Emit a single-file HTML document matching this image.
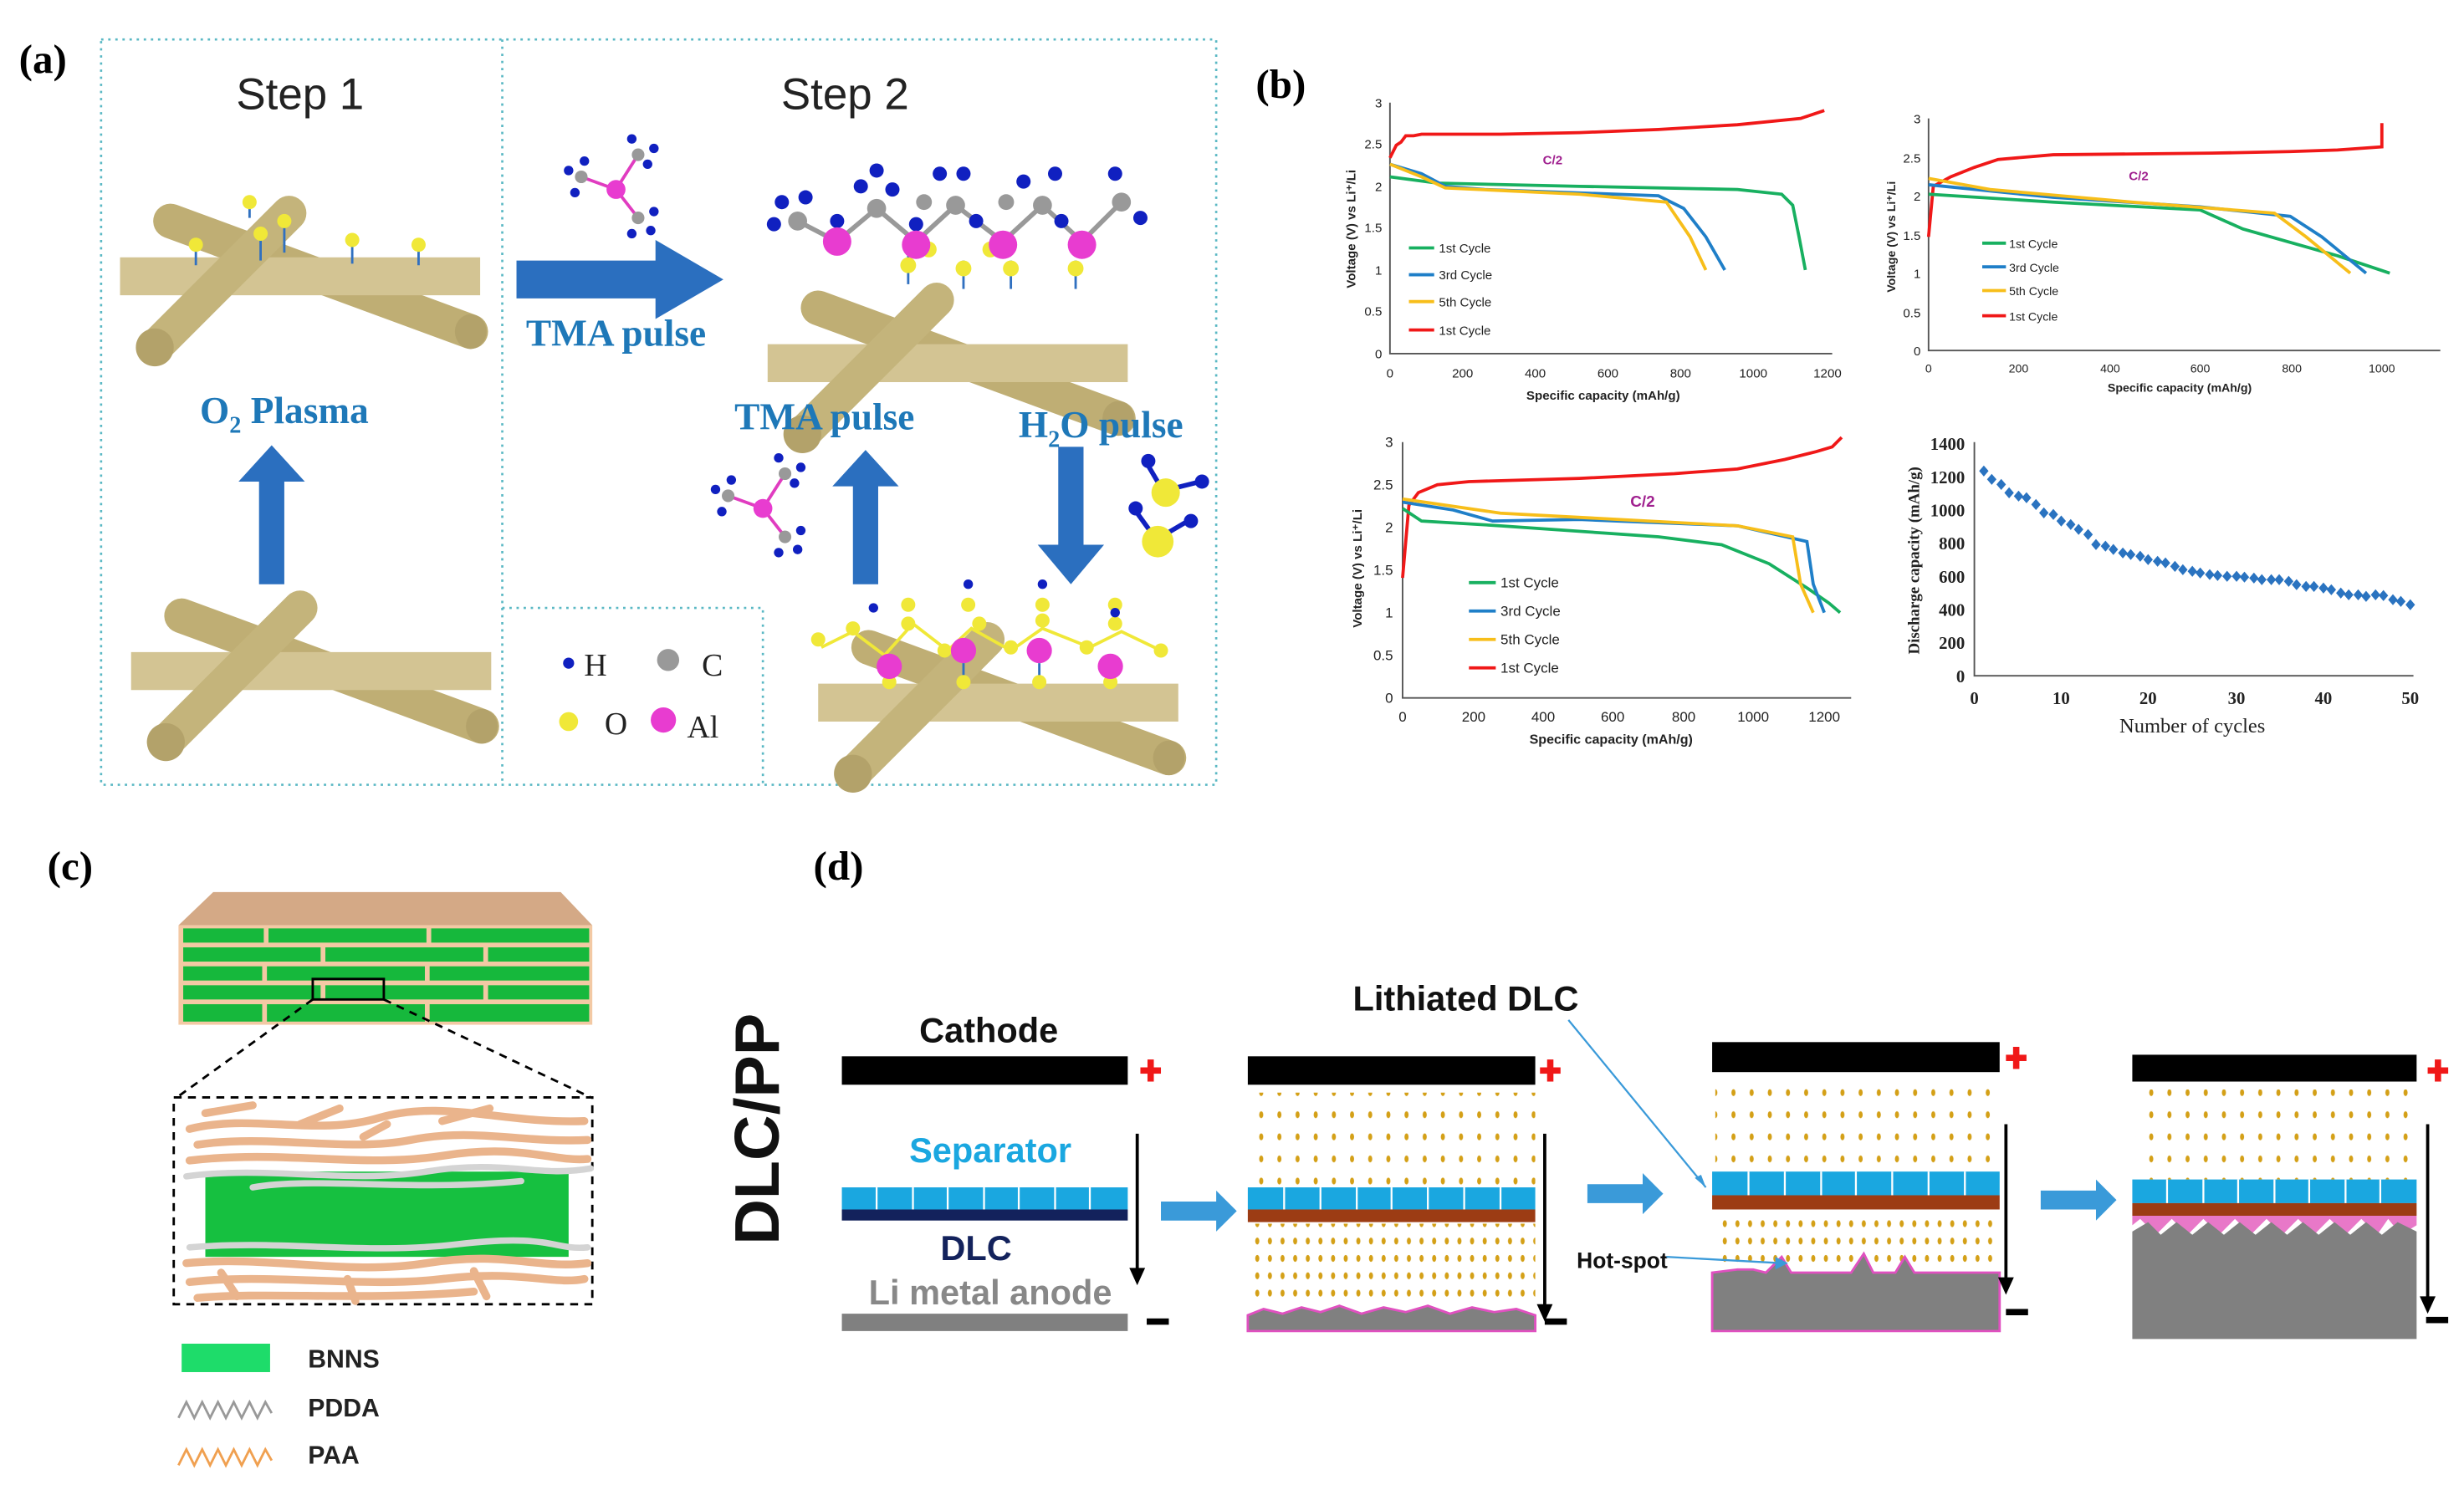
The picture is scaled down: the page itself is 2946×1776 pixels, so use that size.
<!DOCTYPE html>
<html><head><meta charset="utf-8"><style>
html,body{margin:0;padding:0;background:#fff;}
svg{display:block;}
text{font-family:"Liberation Sans",sans-serif;}
.ser{font-family:"Liberation Serif",serif;}
</style></head><body>
<svg width="2946" height="1776" viewBox="0 0 1560 940.5" preserveAspectRatio="none" xmlns="http://www.w3.org/2000/svg">
<defs>
<pattern id="dots" x="0" y="0" width="11.5" height="14" patternUnits="userSpaceOnUse">
<ellipse cx="5" cy="6" rx="1.3" ry="2.2" fill="#d4a017"/>
</pattern>
<pattern id="dots2" x="0" y="0" width="8" height="11" patternUnits="userSpaceOnUse">
<ellipse cx="4" cy="5" rx="1.3" ry="2.2" fill="#d4a017"/>
</pattern>
<g id="rods">
<line x1="40" y1="5" x2="230" y2="75" stroke="#bfae74" stroke-width="22" stroke-linecap="round"/>
<line x1="8" y1="40" x2="236" y2="40" stroke="#d3c493" stroke-width="24"/>
<line x1="30" y1="85" x2="115" y2="0" stroke="#c4b47b" stroke-width="22" stroke-linecap="round"/>
<ellipse cx="30" cy="85" rx="12" ry="12" fill="#b3a26a"/>
<ellipse cx="230" cy="75" rx="10" ry="11" fill="#b3a26a"/>
</g>
<g id="tma">
<line x1="0" y1="0" x2="-22" y2="-8" stroke="#e03cc0" stroke-width="2"/>
<line x1="0" y1="0" x2="14" y2="-22" stroke="#e03cc0" stroke-width="2"/>
<line x1="0" y1="0" x2="14" y2="18" stroke="#e03cc0" stroke-width="2"/>
<circle cx="-22" cy="-8" r="4" fill="#999"/><circle cx="14" cy="-22" r="4" fill="#999"/><circle cx="14" cy="18" r="4" fill="#999"/>
<circle cx="-30" cy="-12" r="3" fill="#1020c0"/><circle cx="-26" cy="2" r="3" fill="#1020c0"/><circle cx="-20" cy="-18" r="3" fill="#1020c0"/>
<circle cx="10" cy="-32" r="3" fill="#1020c0"/><circle cx="24" cy="-26" r="3" fill="#1020c0"/><circle cx="20" cy="-16" r="3" fill="#1020c0"/>
<circle cx="24" cy="14" r="3" fill="#1020c0"/><circle cx="10" cy="28" r="3" fill="#1020c0"/><circle cx="22" cy="26" r="3" fill="#1020c0"/>
<circle cx="0" cy="0" r="6" fill="#e83cd0"/>
</g>
</defs>

<!-- (a) -->
<text x="12" y="46" class="ser" font-size="26" font-weight="bold">(a)</text>
<g stroke="#5ab8c4" stroke-width="1.4" stroke-dasharray="1.5,3" fill="none">
<rect x="64" y="25" width="706" height="472"/>
<line x1="318" y1="25" x2="318" y2="497"/>
<polyline points="318,385 483,385 483,497"/>
</g>
<text x="190" y="69" font-size="28" text-anchor="middle" fill="#222">Step 1</text>
<text x="535" y="69" font-size="28" text-anchor="middle" fill="#222">Step 2</text>
<use href="#rods" x="68" y="135"/>
<g stroke="#3070c0" stroke-width="1.5"><line x1="124" y1="168" x2="124" y2="158"/><line x1="158" y1="138" x2="158" y2="130"/><line x1="165" y1="165" x2="165" y2="150"/><line x1="180" y1="160" x2="180" y2="143"/><line x1="223" y1="167" x2="223" y2="155"/><line x1="265" y1="168" x2="265" y2="157"/></g>
<g fill="#f0e838"><circle cx="124" cy="155" r="4.5"/><circle cx="158" cy="128" r="4.5"/><circle cx="165" cy="148" r="4.5"/><circle cx="180" cy="140" r="4.5"/><circle cx="223" cy="152" r="4.5"/><circle cx="265" cy="155" r="4.5"/></g>
<use href="#rods" x="75" y="385"/>
<use href="#rods" x="478" y="190"/>
<use href="#rods" x="510" y="405"/>
<!-- arrows -->
<polygon points="327,165 415,165 415,152 458,177 415,202 415,189 327,189" fill="#2b6fbf"/>
<polygon points="164,370 180,370 180,305 193,305 172,282 151,305 164,305" fill="#2b6fbf"/>
<polygon points="540,370 556,370 556,308 569,308 548,285 527,308 540,308" fill="#2b6fbf"/>
<polygon points="670,283 686,283 686,345 699,345 678,370 657,345 670,345" fill="#2b6fbf"/>
<g class="ser" font-weight="bold" fill="#1e78b8" font-size="24">
<text x="390" y="219" text-anchor="middle" class="ser">TMA pulse</text>
<text x="180" y="268" text-anchor="middle" class="ser">O<tspan font-size="15" dy="6">2</tspan><tspan dy="-6"> Plasma</tspan></text>
<text x="522" y="272" text-anchor="middle" class="ser">TMA pulse</text>
<text x="697" y="277" text-anchor="middle" class="ser">H<tspan font-size="15" dy="6">2</tspan><tspan dy="-6">O pulse</tspan></text>
</g>
<use href="#tma" x="390" y="120"/>
<use href="#tma" x="483" y="322"/>
<!-- step2 top molecules -->
<g>
<g stroke="#3070c0" stroke-width="1.5"><line x1="575" y1="180" x2="575" y2="160"/><line x1="610" y1="183" x2="610" y2="165"/><line x1="640" y1="183" x2="640" y2="165"/><line x1="681" y1="183" x2="681" y2="165"/></g>
<g fill="#f0e838"><circle cx="575" cy="168" r="5"/><circle cx="610" cy="170" r="5"/><circle cx="640" cy="170" r="5"/><circle cx="681" cy="170" r="5"/><circle cx="588" cy="158" r="5"/><circle cx="627" cy="158" r="5"/></g>
<g stroke="#999" stroke-width="3" fill="none"><polyline points="505,140 530,153 555,132 580,153 605,130 635,153 660,130 685,153 710,128"/></g>
<g fill="#999"><circle cx="505" cy="140" r="6"/><circle cx="555" cy="132" r="6"/><circle cx="605" cy="130" r="6"/><circle cx="660" cy="130" r="6"/><circle cx="710" cy="128" r="6"/><circle cx="585" cy="128" r="5"/><circle cx="637" cy="128" r="5"/></g>
<g fill="#1020c0"><circle cx="490" cy="142" r="4.5"/><circle cx="495" cy="128" r="4.5"/><circle cx="510" cy="125" r="4.5"/><circle cx="545" cy="118" r="4.5"/><circle cx="565" cy="120" r="4.5"/><circle cx="555" cy="108" r="4.5"/><circle cx="595" cy="110" r="4.5"/><circle cx="610" cy="110" r="4.5"/><circle cx="618" cy="140" r="4.5"/><circle cx="648" cy="115" r="4.5"/><circle cx="668" cy="110" r="4.5"/><circle cx="672" cy="140" r="4.5"/><circle cx="706" cy="110" r="4.5"/><circle cx="722" cy="138" r="4.5"/><circle cx="580" cy="142" r="4.5"/><circle cx="530" cy="140" r="4.5"/></g>
<g fill="#e83cd0"><circle cx="530" cy="153" r="9"/><circle cx="580" cy="155" r="9"/><circle cx="635" cy="155" r="9"/><circle cx="685" cy="155" r="9"/></g>
</g>
<!-- H2O molecules -->
<g><line x1="737" y1="312" x2="727" y2="295" stroke="#1020c0" stroke-width="3"/><line x1="740" y1="310" x2="760" y2="305" stroke="#1020c0" stroke-width="3"/><circle cx="738" cy="312" r="9" fill="#f0e838"/><circle cx="727" cy="292" r="4.5" fill="#1020c0"/><circle cx="761" cy="305" r="4.5" fill="#1020c0"/>
<line x1="733" y1="343" x2="720" y2="325" stroke="#1020c0" stroke-width="3"/><line x1="735" y1="340" x2="752" y2="330" stroke="#1020c0" stroke-width="3"/><circle cx="733" cy="343" r="10" fill="#f0e838"/><circle cx="719" cy="322" r="4.5" fill="#1020c0"/><circle cx="754" cy="330" r="4.5" fill="#1020c0"/></g>
<!-- step2 bottom -->
<g>
<polyline points="520,410 540,400 560,415 578,395 600,412 615,398 640,412 660,398 690,410 710,400 735,412" stroke="#f0e838" stroke-width="2" fill="none"/>
<g stroke="#3070c0" stroke-width="1.5"><line x1="563" y1="435" x2="563" y2="420"/><line x1="610" y1="435" x2="610" y2="420"/><line x1="658" y1="435" x2="658" y2="420"/><line x1="703" y1="435" x2="703" y2="420"/></g>
<g fill="#f0e838"><circle cx="518" cy="405" r="4.5"/><circle cx="540" cy="398" r="4.5"/><circle cx="575" cy="395" r="4.5"/><circle cx="598" cy="412" r="4.5"/><circle cx="620" cy="395" r="4.5"/><circle cx="640" cy="410" r="4.5"/><circle cx="660" cy="393" r="4.5"/><circle cx="688" cy="410" r="4.5"/><circle cx="706" cy="395" r="4.5"/><circle cx="735" cy="412" r="4.5"/><circle cx="563" cy="432" r="4.5"/><circle cx="610" cy="432" r="4.5"/><circle cx="658" cy="432" r="4.5"/><circle cx="703" cy="432" r="4.5"/><circle cx="575" cy="383" r="4.5"/><circle cx="613" cy="383" r="4.5"/><circle cx="660" cy="383" r="4.5"/><circle cx="706" cy="383" r="4.5"/></g>
<g fill="#1020c0"><circle cx="553" cy="385" r="3"/><circle cx="613" cy="370" r="3"/><circle cx="660" cy="370" r="3"/><circle cx="706" cy="388" r="3"/></g>
<g fill="#e83cd0"><circle cx="563" cy="422" r="8"/><circle cx="610" cy="412" r="8"/><circle cx="658" cy="412" r="8"/><circle cx="703" cy="422" r="8"/></g>
</g>
<!-- legend -->
<circle cx="360" cy="420" r="3.5" fill="#1020c0"/><text x="377" y="428" class="ser" font-size="20" fill="#222" text-anchor="middle">H</text>
<circle cx="423" cy="418" r="7" fill="#999"/><text x="451" y="428" class="ser" font-size="20" fill="#222" text-anchor="middle">C</text>
<circle cx="360" cy="457" r="6" fill="#f0e838"/><text x="390" y="465" class="ser" font-size="20" fill="#222" text-anchor="middle">O</text>
<circle cx="420" cy="456" r="8" fill="#e83cd0"/><text x="445" y="467" class="ser" font-size="20" fill="#222" text-anchor="middle">Al</text>

<!-- (b) -->
<text x="795" y="62" class="ser" font-size="26" font-weight="bold">(b)</text>
<g font-size="8" fill="#222">
<g stroke="#555" stroke-width="1" fill="none"><polyline points="880,65 880,224 1160,224"/></g>
<g text-anchor="end"><text x="875" y="227">0</text><text x="875" y="200">0.5</text><text x="875" y="174">1</text><text x="875" y="147">1.5</text><text x="875" y="121">2</text><text x="875" y="94">2.5</text><text x="875" y="68">3</text></g>
<g text-anchor="middle"><text x="880" y="239">0</text><text x="926" y="239">200</text><text x="972" y="239">400</text><text x="1018" y="239">600</text><text x="1064" y="239">800</text><text x="1110" y="239">1000</text><text x="1157" y="239">1200</text>
<text x="1015" y="253" font-weight="bold">Specific capacity (mAh/g)</text></g>
<text transform="translate(858,145) rotate(-90)" text-anchor="middle" font-weight="bold">Voltage (V) vs Li⁺/Li</text>
<g fill="none" stroke-width="2">
<polyline stroke="#f01818" points="880,100 884,92 887,90 890,86 895,86 900,85 950,85 1000,84 1050,82 1100,79 1140,75 1155,70"/>
<polyline stroke="#18b060" points="880,112 910,116 1000,118 1100,120 1128,123 1135,130 1139,150 1143,171"/>
<polyline stroke="#1f7fc8" points="880,104 900,110 915,118 940,120 1050,124 1066,132 1080,150 1092,171"/>
<polyline stroke="#f7be1a" points="880,104 900,112 915,119 1000,123 1055,128 1070,150 1080,171"/>
<line x1="892" y1="157" x2="908" y2="157" stroke="#18b060"/><line x1="892" y1="174" x2="908" y2="174" stroke="#1f7fc8"/><line x1="892" y1="191" x2="908" y2="191" stroke="#f7be1a"/><line x1="892" y1="209" x2="908" y2="209" stroke="#f01818"/>
</g>
<text x="911" y="160">1st Cycle</text><text x="911" y="177">3rd Cycle</text><text x="911" y="194">5th Cycle</text><text x="911" y="212">1st Cycle</text>
<text x="983" y="104" fill="#a0208f" font-weight="bold" text-anchor="middle">C/2</text>
<g stroke="#555" stroke-width="1" fill="none"><polyline points="1221,75 1221,222 1545,222"/></g>
<g text-anchor="end"><text x="1216" y="225">0</text><text x="1216" y="201">0.5</text><text x="1216" y="176">1</text><text x="1216" y="152">1.5</text><text x="1216" y="127">2</text><text x="1216" y="103">2.5</text><text x="1216" y="78">3</text></g>
<g text-anchor="middle" font-size="7.5"><text x="1221" y="236">0</text><text x="1278" y="236">200</text><text x="1336" y="236">400</text><text x="1393" y="236">600</text><text x="1451" y="236">800</text><text x="1508" y="236">1000</text>
<text x="1380" y="248" font-weight="bold">Specific capacity (mAh/g)</text></g>
<text transform="translate(1200,150) rotate(-90)" text-anchor="middle" font-weight="bold" font-size="7.5">Voltage (V) vs Li⁺/Li</text>
<g fill="none" stroke-width="2">
<polyline stroke="#f01818" points="1221,150 1224,118 1235,112 1250,106 1265,101 1300,98 1400,97 1450,96 1480,95 1508,93 1508,78"/>
<polyline stroke="#18b060" points="1221,123 1300,128 1393,133 1420,145 1480,162 1513,173"/>
<polyline stroke="#1f7fc8" points="1221,117 1300,125 1393,131 1450,137 1470,150 1498,173"/>
<polyline stroke="#f7be1a" points="1221,113 1260,120 1350,128 1440,135 1460,150 1488,173"/>
<line x1="1255" y1="154" x2="1270" y2="154" stroke="#18b060"/><line x1="1255" y1="169" x2="1270" y2="169" stroke="#1f7fc8"/><line x1="1255" y1="184" x2="1270" y2="184" stroke="#f7be1a"/><line x1="1255" y1="200" x2="1270" y2="200" stroke="#f01818"/>
</g>
<g font-size="7.5"><text x="1272" y="157">1st Cycle</text><text x="1272" y="172">3rd Cycle</text><text x="1272" y="187">5th Cycle</text><text x="1272" y="203">1st Cycle</text></g>
<text x="1354" y="114" fill="#a0208f" font-weight="bold" text-anchor="middle">C/2</text>
<g stroke="#555" stroke-width="1" fill="none"><polyline points="888,280 888,442 1172,442"/></g>
<g text-anchor="end" font-size="9"><text x="882" y="445">0</text><text x="882" y="418">0.5</text><text x="882" y="391">1</text><text x="882" y="364">1.5</text><text x="882" y="337">2</text><text x="882" y="310">2.5</text><text x="882" y="283">3</text></g>
<g text-anchor="middle" font-size="9"><text x="888" y="457">0</text><text x="933" y="457">200</text><text x="977" y="457">400</text><text x="1021" y="457">600</text><text x="1066" y="457">800</text><text x="1110" y="457">1000</text><text x="1155" y="457">1200</text>
<text x="1020" y="471" font-weight="bold" font-size="8.5">Specific capacity (mAh/g)</text></g>
<text transform="translate(862,360) rotate(-90)" text-anchor="middle" font-weight="bold">Voltage (V) vs Li⁺/Li</text>
<g fill="none" stroke-width="2">
<polyline stroke="#f01818" points="888,366 892,320 898,312 910,307 930,305 1000,303 1060,300 1100,297 1130,291 1150,286 1160,283 1166,277"/>
<polyline stroke="#18b060" points="888,322 900,330 950,333 1050,340 1090,345 1120,357 1145,373 1158,382 1165,388"/>
<polyline stroke="#1f7fc8" points="888,318 920,323 945,330 1000,329 1100,333 1144,343 1148,370 1155,388"/>
<polyline stroke="#f7be1a" points="888,316 950,325 1100,333 1135,340 1140,370 1148,388"/>
<line x1="930" y1="369" x2="947" y2="369" stroke="#18b060"/><line x1="930" y1="387" x2="947" y2="387" stroke="#1f7fc8"/><line x1="930" y1="405" x2="947" y2="405" stroke="#f7be1a"/><line x1="930" y1="423" x2="947" y2="423" stroke="#f01818"/>
</g>
<g font-size="9"><text x="950" y="372">1st Cycle</text><text x="950" y="390">3rd Cycle</text><text x="950" y="408">5th Cycle</text><text x="950" y="426">1st Cycle</text></g>
<text x="1040" y="321" fill="#a0208f" font-weight="bold" text-anchor="middle" font-size="10">C/2</text>
<g stroke="#555" stroke-width="1" fill="none"><polyline points="1250,280 1250,428 1528,428"/></g>
<g text-anchor="end" font-size="11" class="ser" font-weight="bold"><text x="1244" y="432" class="ser">0</text><text x="1244" y="411" class="ser">200</text><text x="1244" y="390" class="ser">400</text><text x="1244" y="369" class="ser">600</text><text x="1244" y="348" class="ser">800</text><text x="1244" y="327" class="ser">1000</text><text x="1244" y="306" class="ser">1200</text><text x="1244" y="285" class="ser">1400</text></g>
<g text-anchor="middle" font-size="11" font-weight="bold"><text x="1250" y="446" class="ser">0</text><text x="1305" y="446" class="ser">10</text><text x="1360" y="446" class="ser">20</text><text x="1416" y="446" class="ser">30</text><text x="1471" y="446" class="ser">40</text><text x="1526" y="446" class="ser">50</text></g>
<text x="1388" y="464" text-anchor="middle" font-size="13" class="ser">Number of cycles</text>
<text transform="translate(1215,355) rotate(-90)" text-anchor="middle" font-size="10" font-weight="bold" class="ser">Discharge capacity (mAh/g)</text>
<g fill="#2a73c0">
<path d="M1256,294.8l3,3.5l-3,3.5l-3,-3.5zM1261,300.1l3,3.5l-3,3.5l-3,-3.5zM1267,303.3l3,3.5l-3,3.5l-3,-3.5zM1272,308.6l3,3.5l-3,3.5l-3,-3.5zM1278,310.7l3,3.5l-3,3.5l-3,-3.5zM1283,311.7l3,3.5l-3,3.5l-3,-3.5zM1289,316l3,3.5l-3,3.5l-3,-3.5zM1294,321.3l3,3.5l-3,3.5l-3,-3.5zM1300,322.3l3,3.5l-3,3.5l-3,-3.5zM1305,326.5l3,3.5l-3,3.5l-3,-3.5zM1311,328.7l3,3.5l-3,3.5l-3,-3.5zM1316,331.8l3,3.5l-3,3.5l-3,-3.5zM1322,335l3,3.5l-3,3.5l-3,-3.5zM1327,341.4l3,3.5l-3,3.5l-3,-3.5zM1333,342.4l3,3.5l-3,3.5l-3,-3.5zM1338,344.5l3,3.5l-3,3.5l-3,-3.5zM1344,346.7l3,3.5l-3,3.5l-3,-3.5zM1349,347.7l3,3.5l-3,3.5l-3,-3.5zM1355,348.8l3,3.5l-3,3.5l-3,-3.5zM1360,350.9l3,3.5l-3,3.5l-3,-3.5zM1366,352l3,3.5l-3,3.5l-3,-3.5zM1371,353l3,3.5l-3,3.5l-3,-3.5zM1377,355.2l3,3.5l-3,3.5l-3,-3.5zM1382,357.3l3,3.5l-3,3.5l-3,-3.5zM1388,358.3l3,3.5l-3,3.5l-3,-3.5zM1393,359.4l3,3.5l-3,3.5l-3,-3.5zM1399,360.4l3,3.5l-3,3.5l-3,-3.5zM1404,361l3,3.5l-3,3.5l-3,-3.5zM1410,361.5l3,3.5l-3,3.5l-3,-3.5zM1416,361.5l3,3.5l-3,3.5l-3,-3.5zM1421,362l3,3.5l-3,3.5l-3,-3.5zM1427,362.6l3,3.5l-3,3.5l-3,-3.5zM1432,363.6l3,3.5l-3,3.5l-3,-3.5zM1438,363.6l3,3.5l-3,3.5l-3,-3.5zM1443,363.6l3,3.5l-3,3.5l-3,-3.5zM1449,364.7l3,3.5l-3,3.5l-3,-3.5zM1454,366.8l3,3.5l-3,3.5l-3,-3.5zM1460,367.9l3,3.5l-3,3.5l-3,-3.5zM1465,367.9l3,3.5l-3,3.5l-3,-3.5zM1471,368.9l3,3.5l-3,3.5l-3,-3.5zM1476,370l3,3.5l-3,3.5l-3,-3.5zM1482,372.1l3,3.5l-3,3.5l-3,-3.5zM1487,373.2l3,3.5l-3,3.5l-3,-3.5zM1493,373.2l3,3.5l-3,3.5l-3,-3.5zM1498,374.2l3,3.5l-3,3.5l-3,-3.5zM1504,373.2l3,3.5l-3,3.5l-3,-3.5zM1509,373.7l3,3.5l-3,3.5l-3,-3.5zM1515,376.3l3,3.5l-3,3.5l-3,-3.5zM1520,377.4l3,3.5l-3,3.5l-3,-3.5zM1526,379.5l3,3.5l-3,3.5l-3,-3.5z"/>
</g>
</g>

<!-- (c) -->
<text x="30" y="557" class="ser" font-size="26" font-weight="bold">(c)</text>
<polygon points="135,565 355,565 375,586 113,586" fill="#d4a986"/>
<rect x="113" y="586" width="262" height="63" fill="#f3c9a4"/>
<g fill="#16b83c">
<rect x="116" y="588" width="51" height="9"/><rect x="170" y="588" width="100" height="9"/><rect x="273" y="588" width="100" height="9"/>
<rect x="116" y="600" width="87" height="9"/><rect x="206" y="600" width="100" height="9"/><rect x="309" y="600" width="64" height="9"/>
<rect x="116" y="612" width="50" height="9"/><rect x="169" y="612" width="100" height="9"/><rect x="272" y="612" width="101" height="9"/>
<rect x="116" y="624" width="87" height="9"/><rect x="206" y="624" width="100" height="9"/><rect x="309" y="624" width="64" height="9"/>
<rect x="116" y="636" width="50" height="11"/><rect x="169" y="636" width="100" height="11"/><rect x="272" y="636" width="101" height="11"/>
</g>
<rect x="198" y="620" width="45" height="13" fill="none" stroke="#000" stroke-width="1.5"/>
<g stroke="#000" stroke-width="1.5" stroke-dasharray="5,4" fill="none">
<line x1="198" y1="633" x2="112" y2="695"/><line x1="243" y1="633" x2="374" y2="695"/>
<rect x="110" y="695" width="265" height="131"/>
</g>
<rect x="130" y="742" width="230" height="54" fill="#16c040"/>
<g stroke-linecap="round" fill="none">
<g stroke="#eab48c" stroke-width="5"><path d="M120,715 C160,705 200,720 240,708 S320,712 370,710"/><path d="M125,725 C170,718 220,730 260,722 S330,724 372,722"/><path d="M120,735 C180,728 230,740 280,732 S350,736 372,734"/><path d="M130,705 l30,-5 M190,712 l25,-10 M280,710 l30,-8 M230,720 l15,-8"/>
<path d="M118,800 C170,795 220,808 270,800 S340,804 372,800"/><path d="M120,812 C170,806 230,816 280,810 S350,814 370,810"/><path d="M125,822 C170,818 230,824 300,818"/><path d="M140,806 l10,15 M220,810 l5,14 M300,805 l8,16"/></g>
<g stroke="#d4d4d4" stroke-width="4"><path d="M118,745 C170,738 220,750 270,742 S340,746 374,740"/><path d="M120,790 C180,785 230,795 290,788 S350,792 372,790"/><path d="M160,752 C200,745 260,755 330,748"/></g>
</g>
<rect x="115" y="851" width="56" height="18" fill="#1edc6a"/>
<text x="195" y="866" font-size="16" font-weight="bold" fill="#222">BNNS</text>
<polyline points="113,898 118,888 123,898 128,888 133,898 138,888 143,898 148,888 153,898 158,888 163,898 168,888 172,895" fill="none" stroke="#999" stroke-width="1.5"/>
<text x="195" y="897" font-size="16" font-weight="bold" fill="#222">PDDA</text>
<polyline points="113,928 118,918 123,928 128,918 133,928 138,918 143,928 148,918 153,928 158,918 163,928 168,918 172,925" fill="none" stroke="#f0a050" stroke-width="1.5"/>
<text x="195" y="927" font-size="16" font-weight="bold" fill="#222">PAA</text>

<!-- (d) -->
<text x="515" y="557" class="ser" font-size="26" font-weight="bold">(d)</text>
<text transform="translate(493,715) rotate(-90)" text-anchor="middle" font-size="40" font-weight="bold" fill="#111">DLC/PP</text>
<text x="626" y="660" text-anchor="middle" font-size="22" font-weight="bold" fill="#111">Cathode</text>
<text x="627" y="736" text-anchor="middle" font-size="22" font-weight="bold" fill="#1aa7e0">Separator</text>
<text x="618" y="798" text-anchor="middle" font-size="22" font-weight="bold" fill="#13225c">DLC</text>
<text x="627" y="826" text-anchor="middle" font-size="22" font-weight="bold" fill="#888">Li metal anode</text>
<text x="928" y="640" text-anchor="middle" font-size="22" font-weight="bold" fill="#111">Lithiated DLC</text>
<text x="1027" y="803" text-anchor="middle" font-size="14" font-weight="bold" fill="#111">Hot-spot</text>
<rect x="533" y="669" width="181" height="18" fill="#000"/>
<rect x="533" y="752" width="181" height="14" fill="#1aa7e0"/>
<g stroke="#fff" stroke-width="1.2"><line x1="555" y1="752" x2="555" y2="766"/><line x1="578" y1="752" x2="578" y2="766"/><line x1="600" y1="752" x2="600" y2="766"/><line x1="623" y1="752" x2="623" y2="766"/><line x1="645" y1="752" x2="645" y2="766"/><line x1="668" y1="752" x2="668" y2="766"/><line x1="690" y1="752" x2="690" y2="766"/></g>
<rect x="533" y="766" width="181" height="7" fill="#13225c"/>
<rect x="533" y="832" width="181" height="11" fill="#808080"/>
<rect x="790" y="669" width="182" height="18" fill="#000"/>
<rect x="792" y="692" width="180" height="60" fill="url(#dots)"/>
<rect x="792" y="775" width="180" height="52" fill="url(#dots2)"/>
<rect x="790" y="752" width="182" height="14" fill="#1aa7e0"/>
<g stroke="#fff" stroke-width="1.2"><line x1="813" y1="752" x2="813" y2="766"/><line x1="836" y1="752" x2="836" y2="766"/><line x1="859" y1="752" x2="859" y2="766"/><line x1="881" y1="752" x2="881" y2="766"/><line x1="904" y1="752" x2="904" y2="766"/><line x1="927" y1="752" x2="927" y2="766"/><line x1="950" y1="752" x2="950" y2="766"/></g>
<rect x="790" y="766" width="182" height="8" fill="#9c3c14"/>
<path d="M790,833 L800,829 L812,832 L824,828 L836,831 L848,827 L862,832 L876,828 L890,831 L904,827 L918,832 L932,828 L946,831 L960,829 L972,833 L972,843 L790,843 Z" fill="#808080" stroke="#e050c0" stroke-width="1.5"/>
<rect x="1084" y="660" width="182" height="19" fill="#000"/>
<rect x="1086" y="684" width="180" height="58" fill="url(#dots)"/>
<rect x="1086" y="768" width="180" height="35" fill="url(#dots2)"/>
<rect x="1084" y="742" width="182" height="15" fill="#1aa7e0"/>
<g stroke="#fff" stroke-width="1.2"><line x1="1107" y1="742" x2="1107" y2="757"/><line x1="1130" y1="742" x2="1130" y2="757"/><line x1="1153" y1="742" x2="1153" y2="757"/><line x1="1175" y1="742" x2="1175" y2="757"/><line x1="1198" y1="742" x2="1198" y2="757"/><line x1="1221" y1="742" x2="1221" y2="757"/><line x1="1244" y1="742" x2="1244" y2="757"/></g>
<rect x="1084" y="757" width="182" height="9" fill="#9c3c14"/>
<path d="M1084,806 L1100,804 L1110,804 L1118,806 L1128,796 L1134,806 L1172,806 L1180,794 L1186,806 L1200,806 L1206,796 L1212,806 L1266,806 L1266,843 L1084,843 Z" fill="#808080" stroke="#e050c0" stroke-width="1.5"/>
<rect x="1350" y="668" width="180" height="17" fill="#000"/>
<rect x="1352" y="690" width="178" height="57" fill="url(#dots)"/>
<rect x="1350" y="747" width="180" height="15" fill="#1aa7e0"/>
<g stroke="#fff" stroke-width="1.2"><line x1="1372" y1="747" x2="1372" y2="762"/><line x1="1395" y1="747" x2="1395" y2="762"/><line x1="1417" y1="747" x2="1417" y2="762"/><line x1="1440" y1="747" x2="1440" y2="762"/><line x1="1462" y1="747" x2="1462" y2="762"/><line x1="1485" y1="747" x2="1485" y2="762"/><line x1="1507" y1="747" x2="1507" y2="762"/></g>
<rect x="1350" y="762" width="180" height="8" fill="#9c3c14"/>
<path d="M1350,770 L1530,770 L1530,776 L1520,782 L1512,772 L1505,782 L1495,772 L1485,782 L1475,772 L1465,782 L1455,772 L1445,782 L1435,772 L1425,782 L1415,772 L1405,782 L1395,772 L1385,782 L1375,772 L1365,782 L1355,772 L1350,776 Z" fill="#e878c8"/>
<path d="M1350,780 L1360,774 L1368,782 L1378,774 L1388,782 L1398,774 L1408,782 L1418,774 L1428,782 L1438,774 L1448,782 L1458,774 L1468,782 L1478,774 L1488,782 L1498,774 L1508,782 L1518,774 L1530,780 L1530,848 L1350,848 Z" fill="#808080"/>
<g stroke="#000" stroke-width="2"><line x1="720" y1="718" x2="720" y2="805"/><line x1="978" y1="718" x2="978" y2="828"/><line x1="1270" y1="712" x2="1270" y2="811"/><line x1="1537" y1="712" x2="1537" y2="823"/></g>
<g fill="#000"><polygon points="715,803 725,803 720,814"/><polygon points="973,826 983,826 978,837"/><polygon points="1265,809 1275,809 1270,820"/><polygon points="1532,821 1542,821 1537,832"/></g>
<g fill="#f01818"><rect x="722" y="676" width="13" height="4"/><rect x="726.5" y="671" width="4" height="14"/><rect x="975" y="676" width="13" height="4"/><rect x="979.5" y="671" width="4" height="14"/><rect x="1270" y="668" width="13" height="4"/><rect x="1274.5" y="663" width="4" height="14"/><rect x="1537" y="676" width="13" height="4"/><rect x="1541.5" y="671" width="4" height="14"/></g>
<g fill="#000"><rect x="726" y="835" width="14" height="4"/><rect x="978" y="835" width="14" height="4"/><rect x="1270" y="829" width="14" height="4"/><rect x="1536" y="834" width="14" height="4"/></g>
<g fill="#3a9ad9"><polygon points="735,761 770,761 770,754 783,767 770,780 770,773 735,773"/><polygon points="1005,750 1040,750 1040,743 1053,756 1040,769 1040,762 1005,762"/><polygon points="1292,754 1327,754 1327,747 1340,760 1327,773 1327,766 1292,766"/></g>
<g stroke="#3a9ad9" stroke-width="1.2"><line x1="993" y1="646" x2="1080" y2="752"/><line x1="1055" y1="796" x2="1128" y2="800"/></g>
<polygon points="1080,752 1073,746 1077,744" fill="#3a9ad9"/>
<polygon points="1132,800 1124,796 1124,804" fill="#3a9ad9"/>
</svg>
</body></html>
